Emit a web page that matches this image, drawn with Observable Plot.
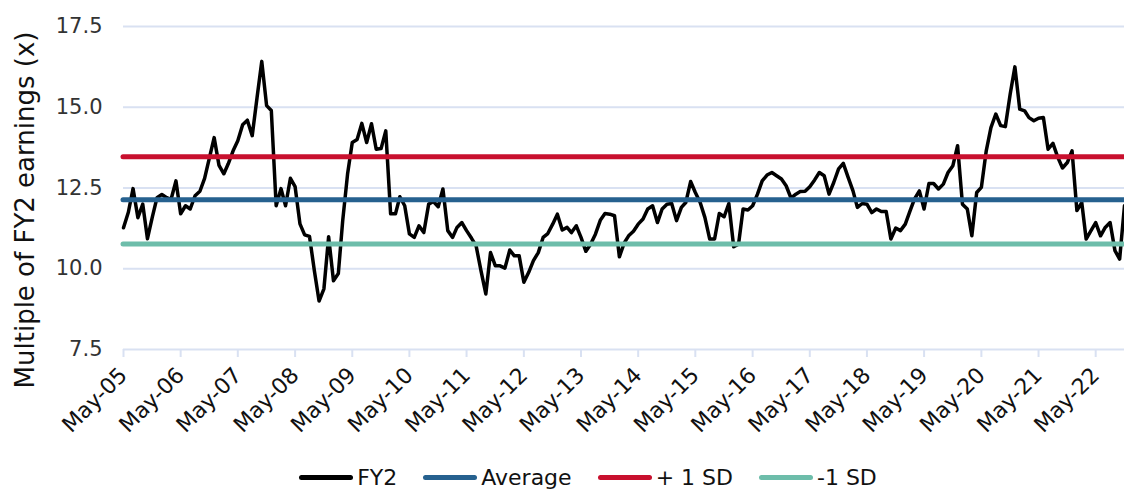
<!DOCTYPE html>
<html>
<head>
<meta charset="utf-8">
<script src="https://cdn.jsdelivr.net/npm/d3@7"></script>
<script src="https://cdn.jsdelivr.net/npm/@observablehq/plot@0.6"></script>
<style>
html, body { margin: 0; padding: 0; background: #fff; }
body { width: 1124px; height: 495px; overflow: hidden; font-family: "DejaVu Sans", sans-serif; }
#chart svg { display: block; }
#legend { display: flex; justify-content: center; align-items: center; height: 35px; padding-left: 52px; font-size: 22px; color: #111; }
.item { display: flex; align-items: center; margin: 0 13px; }
.sw { width: 54px; height: 5px; border-radius: 3px; margin-right: 4px; }
</style>
</head>
<body>
<div id="chart"></div>
<div id="legend"></div>
<script>
// ---- data (monthly, starting May-05) ----
const firstMonth = "May-05";
const fy2Values = [
  11.27, 11.75, 12.48, 11.58, 12.0, 10.93, 11.6, 12.2,
  12.3, 12.2, 12.15, 12.72, 11.7, 11.95, 11.85, 12.26, 12.4, 12.8, 13.44, 14.06,
  13.2, 12.94, 13.25, 13.65, 13.96, 14.46, 14.6, 14.12, 15.3, 16.42, 15.05, 14.9,
  11.95, 12.48, 11.95, 12.8, 12.54, 11.39, 11.05, 11.0, 9.94, 9.0, 9.38, 10.99,
  9.63, 9.85, 11.49, 12.93, 13.91, 14.0, 14.5, 13.91, 14.49, 13.7, 13.72, 14.27,
  11.7, 11.7, 12.23, 11.95, 11.08, 10.97, 11.33, 11.12, 12.0, 12.08, 11.92, 12.47,
  11.18, 10.97, 11.28, 11.43, 11.18, 10.95, 10.71, 9.94, 9.22, 10.5, 10.09, 10.09,
  10.02, 10.58, 10.4, 10.4, 9.58, 9.89, 10.25, 10.5, 10.97, 11.09, 11.38, 11.69,
  11.2, 11.28, 11.12, 11.33, 10.97, 10.54, 10.76, 11.07, 11.5, 11.71, 11.69, 11.64,
  10.37, 10.8, 11.02, 11.16, 11.38, 11.54, 11.85, 11.95, 11.43, 11.85, 12.0, 12.02,
  11.49, 11.9, 12.05, 12.7, 12.36, 12.05, 11.59, 10.92, 10.92, 11.71, 11.61, 12.02,
  10.68, 10.76, 11.85, 11.82, 11.95, 12.31, 12.72, 12.9, 12.98, 12.88, 12.78, 12.57,
  12.19, 12.31, 12.39, 12.4, 12.54, 12.75, 12.98, 12.88, 12.31, 12.67, 13.09, 13.26,
  12.83, 12.41, 11.9, 12.02, 12.0, 11.74, 11.85, 11.77, 11.77, 10.92, 11.26, 11.18,
  11.38, 11.8, 12.16, 12.41, 11.85, 12.64, 12.64, 12.47, 12.62, 12.98, 13.19, 13.81,
  12.0, 11.85, 11.02, 12.36, 12.52, 13.65, 14.37, 14.79, 14.43, 14.4, 15.41, 16.25,
  14.94, 14.89, 14.68, 14.58, 14.66, 14.68, 13.7, 13.88, 13.45, 13.12, 13.29, 13.65,
  11.8, 12.05, 10.92, 11.18, 11.43, 11.02, 11.28, 11.43, 10.56, 10.3, 11.95
];
const averageValue = 12.14;
const plusOneSDValue = 13.47;
const minusOneSDValue = 10.77;

const seriesNames = ["FY2", "Average", "+ 1 SD", "-1 SD"];
const seriesColors = ["#000000", "#26618F", "#C8102E", "#6DBDAA"];
const yTicks = [7.5, 10, 12.5, 15, 17.5];
const xTickLabels = ["May-05","May-06","May-07","May-08","May-09","May-10","May-11","May-12","May-13",
  "May-14","May-15","May-16","May-17","May-18","May-19","May-20","May-21","May-22"];
const yLabel = "Multiple of FY2 earnings (x)";

// ---- build ----
const parseMonth = d3.utcParse("%b-%y");
const start = parseMonth(firstMonth);
const data = fy2Values.map((v, i) => ({date: d3.utcMonth.offset(start, i), value: v}));
const tickDates = xTickLabels.map(parseMonth);
const gridColor = "#D9E1F2";

const chart = Plot.plot({
  width: 1124,
  height: 460,
  marginLeft: 123,
  marginRight: 0,
  marginTop: 26,
  marginBottom: 111,
  style: {fontFamily: "DejaVu Sans, sans-serif", fontSize: "21px", color: "#111", background: "#fff", overflow: "visible"},
  x: {type: "utc", domain: [data[0].date, data[data.length - 1].date]},
  y: {domain: [7.5, 17.5]},
  marks: [
    Plot.gridY(yTicks, {stroke: gridColor, strokeOpacity: 1, strokeWidth: 2}),
    Plot.axisY({ticks: yTicks, tickFormat: d3.format(".1f"), tickSize: 0, tickPadding: 21, label: null, fill: "#333", fontSize: 21}),
    Plot.axisX({ticks: tickDates, tickFormat: d3.utcFormat("%b-%y"), tickRotate: -45, tickSize: 8, tickPadding: 14,
      stroke: gridColor, strokeOpacity: 1, strokeWidth: 2, fill: "#111", label: null, fontSize: 22}),
    Plot.lineY(data, {x: "date", y: "value", stroke: seriesColors[0], strokeWidth: 3.5, strokeLinejoin: "round"}),
    Plot.ruleY([averageValue], {stroke: seriesColors[1], strokeWidth: 5, strokeLinecap: "round"}),
    Plot.ruleY([plusOneSDValue], {stroke: seriesColors[2], strokeWidth: 5, strokeLinecap: "round"}),
    Plot.ruleY([minusOneSDValue], {stroke: seriesColors[3], strokeWidth: 5, strokeLinecap: "round"}),
    Plot.text([yLabel], {frameAnchor: "left", textAnchor: "middle", rotate: -90, dx: -98, dy: 22, fontSize: 26, fill: "#111"})
  ]
});
document.getElementById("chart").appendChild(chart);

// ---- legend ----
const legend = d3.select("#legend");
seriesNames.forEach((name, i) => {
  const item = legend.append("div").attr("class", "item");
  item.append("div").attr("class", "sw").style("background", seriesColors[i]);
  item.append("span").text(name);
});
</script>
</body>
</html>
